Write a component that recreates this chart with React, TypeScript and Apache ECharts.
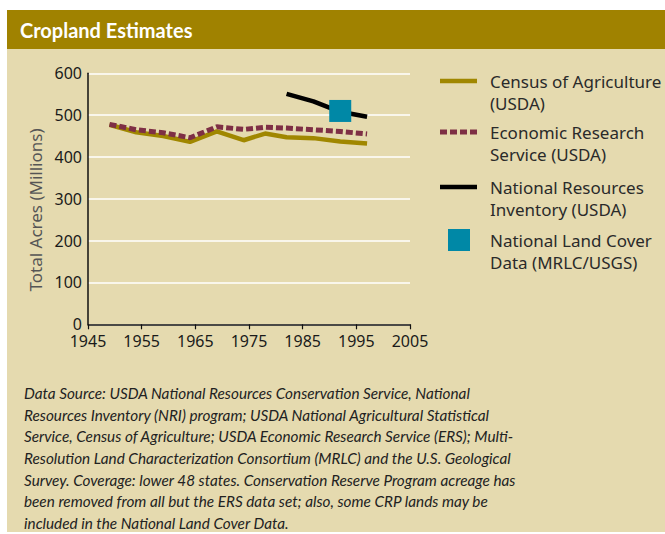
import React, { useEffect, useRef } from "react";
import * as echarts from "echarts";

const title = "Cropland Estimates";
const yAxisName = "Total Acres (Millions)";
const xTicks = { min: 1945, max: 2005, interval: 10 };
const yTicks = { min: 0, max: 600, interval: 100 };

const seriesNames = [
  "Census of Agriculture\n(USDA)",
  "Economic Research\nService (USDA)",
  "National Resources\nInventory (USDA)",
  "National Land Cover\nData (MRLC/USGS)",
];

const censusYears = [1949, 1954, 1959, 1964, 1969, 1974, 1978, 1982, 1987, 1992, 1997];
const censusValues = [477, 459, 450, 436, 461, 440, 456, 447, 445, 437, 432];

const ersYears = [1949, 1954, 1959, 1964, 1969, 1974, 1978, 1982, 1987, 1992, 1997];
const ersValues = [478, 465, 458, 446, 472, 466, 471, 469, 465, 461, 455];

const nriYears = [1982, 1987, 1992, 1997];
const nriValues = [551, 533, 508, 496];

const nlcdYears = [1992];
const nlcdValues = [510];

const footnoteLines = [
  "Data Source: USDA National Resources Conservation Service, National",
  "Resources Inventory (NRI) program; USDA National Agricultural Statistical",
  "Service, Census of Agriculture; USDA Economic Research Service (ERS); Multi-",
  "Resolution Land Characterization Consortium (MRLC) and the U.S. Geological",
  "Survey. Coverage: lower 48 states. Conservation Reserve Program acreage has",
  "been removed from all but the ERS data set; also, some CRP lands may be",
  "included in the National Land Cover Data.",
];

const GOLD = "#A08700";
const MAROON = "#7E2F45";
const BLACK = "#000000";
const TEAL = "#0088A6";
const HEADER = "#A08200";
const BEIGE = "#E5DAAF";
const FONT = "'Noto Sans', sans-serif";
const FONT2 = "Lato, 'Noto Sans', sans-serif";

const zip = (xs: number[], ys: number[]) => xs.map((x, i) => [x, ys[i]]);

export default function App() {
  const ref = useRef<HTMLDivElement>(null);
  useEffect(() => {
    if (!ref.current) return;
    const chart = echarts.init(ref.current, undefined, { renderer: "svg" });
    const legendTop = [81, 132, 187, 240];
    const legendGraphics: any[] = [];
    seriesNames.forEach((name, i) => {
      const y = legendTop[i];
      if (i === 3) {
        legendGraphics.push({
          type: "rect",
          shape: { x: 448, y: y - 11, width: 22, height: 22 },
          style: { fill: TEAL },
        });
      } else {
        legendGraphics.push({
          type: "line",
          shape: { x1: 440, y1: y, x2: 477, y2: y },
          style: {
            stroke: i === 0 ? GOLD : i === 1 ? MAROON : BLACK,
            lineWidth: i === 1 ? 5 : 4.5,
            lineDash: i === 1 ? [7, 3] : null,
          },
        });
      }
      legendGraphics.push({
        type: "text",
        x: 490,
        y: y - 11,
        style: {
          text: name,
          fill: "#2a2a2a",
          font: `17px ${FONT}`,
          lineHeight: 22,
          textVerticalAlign: "top",
        },
      });
    });

    chart.setOption({
      animation: false,
      backgroundColor: "#ffffff",
      textStyle: { fontFamily: FONT },
      grid: { left: 88, top: 73.3, width: 322, height: 251, containLabel: false },
      xAxis: {
        type: "value",
        min: xTicks.min,
        max: xTicks.max,
        interval: xTicks.interval,
        axisLine: { show: true, lineStyle: { color: "#111", width: 1.5 } },
        axisTick: { show: true, length: 5, lineStyle: { color: "#111", width: 1.2 } },
        splitLine: { show: false },
        axisLabel: {
          color: "#1a1a1a",
          fontSize: 16,
          lineHeight: 15,
          margin: 9,
          fontFamily: FONT,
          formatter: (v: number) => String(v),
        },
      },
      yAxis: {
        type: "value",
        min: yTicks.min,
        max: yTicks.max,
        interval: yTicks.interval,
        axisLine: { show: true, lineStyle: { color: "#111", width: 1.5 } },
        axisTick: { show: false },
        splitLine: { show: true, lineStyle: { color: "#ffffff", width: 1.5 } },
        axisLabel: { color: "#1a1a1a", fontSize: 16, lineHeight: 13, margin: 6, fontFamily: FONT },
      },
      series: [
        {
          name: seriesNames[0],
          type: "line",
          data: zip(censusYears, censusValues),
          symbol: "none",
          lineStyle: { color: GOLD, width: 4.5 },
          z: 2,
        },
        {
          name: seriesNames[1],
          type: "line",
          data: zip(ersYears, ersValues),
          symbol: "none",
          lineStyle: { color: MAROON, width: 5, type: [7, 3], cap: "butt" },
          z: 3,
        },
        {
          name: seriesNames[2],
          type: "line",
          data: zip(nriYears, nriValues),
          symbol: "none",
          lineStyle: { color: BLACK, width: 4.5 },
          z: 4,
        },
        {
          name: seriesNames[3],
          type: "scatter",
          data: zip(nlcdYears, nlcdValues),
          symbol: "rect",
          symbolSize: 22,
          itemStyle: { color: TEAL, opacity: 1 },
          z: 5,
        },
      ],
      graphic: [
        { type: "rect", z: -100, shape: { x: 7, y: 10, width: 658, height: 39 }, style: { fill: HEADER } },
        { type: "rect", z: -100, shape: { x: 7, y: 49, width: 658, height: 483 }, style: { fill: BEIGE } },
        {
          type: "text",
          x: 20,
          y: 30,
          style: { text: title, fill: "#ffffff", font: `bold 20px ${FONT2}`, textVerticalAlign: "middle" },
        },
        {
          type: "text",
          x: 35,
          y: 210,
          rotation: Math.PI / 2,
          style: {
            text: yAxisName,
            fill: "#555555",
            font: `17px ${FONT}`,
            textAlign: "center",
            textVerticalAlign: "middle",
          },
        },
        ...legendGraphics,
        {
          type: "text",
          x: 24,
          y: 382,
          style: {
            text: footnoteLines.join("\n"),
            fill: "#222222",
            font: `italic 15.3px ${FONT2}`,
            lineHeight: 21.7,
            textVerticalAlign: "top",
          },
        },
      ],
    });
    return () => chart.dispose();
  }, []);
  return (
    <div
      ref={ref}
      style={{ position: "fixed", left: 0, top: 0, width: 665, height: 534 }}
    />
  );
}
